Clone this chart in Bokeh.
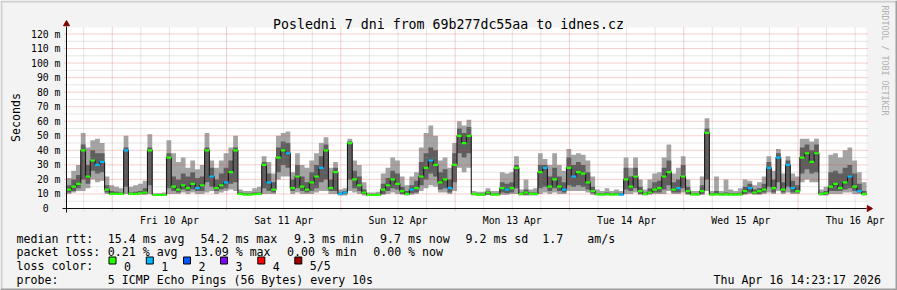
import math
from bokeh.plotting import figure
from bokeh.models import Label, FixedTicker, LinearAxis
from bokeh.embed import file_html
from bokeh.resources import INLINE

# ---------------- data (hourly bins, graph start Thu 9 Apr 14:23:17) ----------------
median_ms = [
    13, 15, 17, 40, 22, 33, 30, 32, 13, 10, 10, 10,
    40, 10, 10, 10.5, 11, 40, 9.3, 9.3, 9.3, 35, 15, 13,
    16, 14, 17, 14, 16, 40, 22, 14, 16, 18, 25, 40,
    10, 9.6, 9.6, 9.8, 10, 30, 18, 13, 35, 40, 38, 14,
    22, 15, 13, 18, 22, 28, 40, 14, 25, 10, 11, 45,
    20, 16, 11, 9.3, 9.3, 9.4, 13, 16, 20, 17, 12, 10,
    13, 14, 22, 28, 33, 30, 18, 20, 14, 30, 50, 45,
    50, 10, 9.5, 9.5, 11, 9.6, 9.6, 14, 13, 14, 28, 10,
    11, 10, 10, 25, 28, 15, 20, 15, 13, 28, 22, 25,
    24, 18, 12, 9.8, 9.6, 9.8, 9.6, 9.7, 9.6, 20, 15, 22,
    12, 10, 11, 13, 14, 22, 25, 13, 14, 22, 12, 9.7,
    9.7, 12, 52, 9.6, 9.8, 9.6, 9.7, 9.6, 9.6, 9.7, 12, 14,
    11, 12, 13, 28, 14, 35, 13, 30, 14, 12, 35, 38,
    32, 38, 10, 10.5, 15, 17, 14, 18, 22, 15, 12, 10,
]
smoke_min = [
    10, 11, 12, 12, 14, 20, 18, 19, 10, 9.5, 9.5, 9.4,
    10, 9.3, 9.3, 9.5, 9.5, 10, 9, 9, 9, 10, 10, 10,
    11, 10, 11, 10, 10, 11, 12, 10, 11, 12, 13, 12,
    9.2, 9.1, 9.1, 9.2, 9.3, 10, 10, 10, 20, 22, 22, 10,
    11, 10, 10, 10, 11, 12, 12, 10, 10, 9, 9, 12,
    11, 10, 9, 9, 9, 9, 9.5, 10, 11, 10, 9.5, 9,
    9.5, 10, 12, 14, 16, 15, 11, 11, 10, 12, 28, 25,
    28, 9, 9, 9, 9.2, 9, 9, 9.5, 9.5, 10, 10, 9,
    9, 9, 9, 10, 11, 10, 11, 10, 10, 12, 12, 12,
    12, 11, 9.5, 9, 9, 9, 9, 9, 9, 10, 10, 11,
    9.5, 9, 9.5, 10, 10, 10, 12, 10, 10, 11, 9.5, 9,
    9, 9.5, 12, 9, 9, 9, 9, 9, 9, 9, 9.5, 10,
    9.5, 9.5, 10, 11, 10, 12, 10, 11, 10, 10, 18, 20,
    18, 18, 9, 9, 10, 10, 10, 11, 11, 10, 10, 9,
]
smoke_p2 = [
    11, 12, 14, 20, 17, 26, 24, 25, 11, 9.8, 9.8, 9.7,
    15, 9.6, 9.6, 10, 10, 16, 9.1, 9.1, 9.1, 14, 12, 11,
    13, 12, 13, 12, 12, 18, 15, 12, 13, 14, 17, 18,
    9.5, 9.3, 9.3, 9.4, 9.5, 14, 12, 11, 25, 30, 28, 12,
    14, 12, 11, 12, 14, 18, 20, 12, 12, 9.5, 10, 20,
    14, 12, 10, 9.1, 9.1, 9.1, 10, 12, 14, 13, 10, 9.5,
    10.5, 11, 16, 20, 24, 22, 13, 14, 11, 18, 38, 35,
    38, 9.3, 9.2, 9.2, 9.6, 9.2, 9.2, 11, 10.5, 11, 14, 9.5,
    9.5, 9.5, 9.5, 14, 15, 12, 14, 12, 11, 16, 15, 16,
    15, 13, 10.5, 9.3, 9.3, 9.3, 9.3, 9.3, 9.3, 13, 12, 14,
    10, 9.5, 10, 11, 11, 13, 16, 11, 11, 14, 10, 9.3,
    9.3, 10, 20, 9.2, 9.3, 9.2, 9.3, 9.2, 9.2, 9.3, 10, 11,
    10, 10, 11, 15, 11, 18, 11, 15, 11, 11, 24, 27,
    24, 25, 9.5, 9.5, 12, 12, 12, 13, 14, 12, 11, 9.5,
]
smoke_p4 = [
    16, 20, 23, 44, 30, 40, 38, 38, 16, 12, 11.5, 11,
    42, 11, 11.5, 12, 14, 42, 9.8, 9.8, 9.8, 38, 22, 20,
    24, 22, 25, 21, 22, 42, 28, 20, 24, 28, 33, 42,
    11, 10.5, 10.5, 11, 11, 32, 24, 18, 42, 46, 45, 20,
    30, 22, 18, 25, 30, 36, 44, 20, 28, 11, 12, 46,
    26, 22, 13, 9.8, 9.8, 10, 17, 21, 26, 24, 15, 12,
    16, 19, 32, 38, 42, 40, 25, 27, 20, 38, 55, 52,
    56, 10.5, 10.2, 10.2, 12, 10.3, 10.5, 18, 17, 18, 30, 11,
    13, 11, 11, 30, 30, 22, 28, 22, 18, 35, 30, 32,
    30, 25, 15, 10.5, 10.5, 11, 10.5, 10.8, 10.5, 28, 22, 28,
    15, 11, 14, 18, 19, 28, 33, 18, 20, 30, 15, 10.5,
    10.5, 16, 55, 10.5, 12, 10.5, 11, 10.5, 10.5, 10.8, 15, 17,
    13, 14, 17, 32, 20, 38, 18, 33, 19, 16, 42, 44,
    40, 44, 11, 12, 25, 26, 24, 28, 30, 24, 17, 12,
]
smoke_max = [
    21, 26, 30, 52, 42, 47, 48, 45, 22, 16, 15, 14,
    50, 15, 16, 17, 19, 51, 10.5, 10.5, 11, 47, 38, 32,
    35, 28, 33, 27, 30, 52, 33, 28, 33, 38, 42, 50,
    13, 12, 12, 14, 15, 36, 32, 24, 50, 52, 53, 25,
    38, 30, 28, 33, 38, 45, 49, 28, 32, 13, 14, 48,
    33, 30, 18, 11, 11, 11.5, 24, 28, 35, 33, 22, 16,
    22, 25, 42, 52, 57, 50, 33, 35, 28, 45, 60, 57,
    61, 12, 11.5, 11.5, 14, 12, 12, 25, 24, 25, 36, 13,
    20, 13, 14, 38, 34, 30, 38, 30, 26, 41, 37, 38,
    37, 33, 22, 13, 12, 14, 12, 13, 12, 35, 28, 35,
    20, 13, 20, 24, 25, 35, 44, 24, 28, 36, 20, 12,
    12, 22, 62, 12, 22, 12, 20, 13, 12, 14, 20, 19,
    16, 18, 22, 36, 26, 41, 24, 36, 24, 22, 48, 48,
    46, 48, 13, 15, 37, 38, 35, 40, 42, 33, 25, 18,
]
loss_count = [
    0, 0, 0, 0, 0, 0, 1, 1, 0, 0, 0, 0,
    1, 0, 0, 0, 0, 0, 0, 0, 0, 0, 0, 0,
    0, 0, 0, 1, 0, 0, 1, 0, 0, 1, 0, 0,
    0, 0, 0, 0, 0, 0, 1, 0, 0, 0, 1, 0,
    0, 0, 0, 0, 0, 1, 0, 0, 0, 1, 1, 0,
    0, 0, 0, 0, 0, 0, 0, 0, 0, 0, 0, 0,
    1, 0, 0, 0, 1, 0, 0, 0, 1, 0, 0, 0,
    0, 0, 0, 0, 0, 0, 0, 0, 1, 0, 0, 0,
    0, 0, 0, 0, 1, 0, 0, 0, 1, 0, 1, 0,
    0, 0, 0, 0, 0, 0, 0, 0, 1, 0, 0, 0,
    0, 0, 0, 0, 0, 0, 0, 0, 1, 0, 0, 0,
    0, 0, 0, 0, 0, 0, 0, 0, 0, 0, 0, 1,
    0, 0, 0, 1, 0, 1, 0, 1, 1, 0, 0, 0,
    0, 0, 0, 0, 0, 0, 0, 0, 1, 0, 1, 0,
]
loss_labels = ["0", "1", "2", "3", "4", "5/5"]
loss_colors = ["#26ff00", "#00b8ff", "#0059ff", "#7e00ff", "#ff0000", "#a00000"]

day_labels = ["Fri 10 Apr", "Sat 11 Apr", "Sun 12 Apr", "Mon 13 Apr",
              "Tue 14 Apr", "Wed 15 Apr", "Thu 16 Apr"]
y_ticks = [0, 10, 20, 30, 40, 50, 60, 70, 80, 90, 100, 110, 120]
y_tick_labels = ["0\u00a0\u00a0"] + ["%d m" % v for v in y_ticks[1:]]

title_text = "Posledni 7 dni from 69b277dc55aa to idnes.cz"
legend_rtt = [("median rtt:", 16), ("15.4 ms avg", 107.3), ("54.2 ms max", 200),
              ("9.3 ms min", 293.5), ("9.7 ms now", 379.5), ("9.2 ms sd", 465),
              ("1.7", 541.7), ("am/s", 586.7)]
legend_loss = [("packet loss:", 16), ("0.21 % avg", 107.3), ("13.09 % max", 193.3),
               ("0.00 % min", 286.5), ("0.00 % now", 372.7)]
probe_text = "5 ICMP Echo Pings (56 Bytes) every 10s"
stamp_text = "Thu Apr 16 14:23:17 2026"

HOURS = 168
FIRST_MIDNIGHT_H = 9 + 36 / 60 + 43 / 3600  # Fri 10 Apr 00:00 relative to start
TOP_MS = 124.5

# ---------------- layout (pixels) ----------------
W, H = 897, 290
PPH = 800 / HOURS
PPM = 174.5 / 120
X0, Y0 = 66, 208
BG = "#f3f3f3"
MONO = "DejaVu Sans Mono"


def hx(px):
    return (px - X0) / PPH


def my(py):
    return (Y0 - py) / PPM


p = figure(width=W, height=H, output_backend="svg", toolbar_location=None, title=None,
           x_range=(hx(0), hx(W)), y_range=(my(H), my(0)),
           x_axis_type=None, y_axis_type=None,
           min_border=0, min_border_left=0, min_border_right=0, min_border_top=0,
           min_border_bottom=0, background_fill_color=BG, border_fill_color=BG)
p.outline_line_color = None

# axes placed at the data origin (labels only; lines drawn below)
noon_pos = [round(FIRST_MIDNIGHT_H + 12 + 24 * k, 3) for k in range(len(day_labels))]
xax = LinearAxis(fixed_location=0, ticker=FixedTicker(ticks=noon_pos))
xax.major_label_overrides = {t: s for t, s in zip(noon_pos, day_labels)}
yax = LinearAxis(fixed_location=0, ticker=FixedTicker(ticks=y_ticks))
yax.major_label_overrides = {t: s for t, s in zip(y_ticks, y_tick_labels)}
for ax in (xax, yax):
    ax.axis_line_color = None
    ax.major_tick_line_color = None
    ax.minor_tick_line_color = None
    ax.major_tick_out = 0
    ax.major_tick_in = 0
    ax.major_label_standoff = 6
    ax.major_label_text_font = MONO
    ax.major_label_text_font_size = "9.8px"
    ax.major_label_text_color = "#000000"
p.add_layout(xax, "below")
p.add_layout(yax, "left")

# canvas
p.quad(left=0, right=HOURS, bottom=0, top=TOP_MS, fill_color="#ffffff", line_color=None)

# smoke
xs = list(range(HOURS + 1))


def ext(a):
    return list(a) + [a[-1]]


p.varea_step(x=xs, y1=ext(smoke_min), y2=ext(smoke_max), step_mode="after",
             fill_color="#a4a4a4")
p.varea_step(x=xs, y1=ext(smoke_p2), y2=ext(smoke_p4), step_mode="after",
             fill_color="#5e5e5e")

# grid
midnights = [FIRST_MIDNIGHT_H + 24 * k for k in range(7)]
sixes = [FIRST_MIDNIGHT_H - 6 + 6 * k for k in range(29)]
minor_v = [v for v in sixes if 0 < v < HOURS and min(abs(v - m) for m in midnights) > 0.1]
grid_bot = my(210)
p.segment(x0=minor_v, x1=minor_v, y0=[grid_bot] * len(minor_v), y1=[TOP_MS] * len(minor_v),
          line_color="#8f8f8f", line_alpha=0.45, line_dash="1 1", line_width=1)
p.segment(x0=midnights, x1=midnights, y0=[grid_bot] * 7, y1=[TOP_MS] * 7,
          line_color="#e04040", line_alpha=0.5, line_dash="1 1", line_width=1)
hmin = [v for v in range(5, 125, 5) if v % 10]
hmaj = [v for v in range(10, 125, 10)]
p.segment(x0=[hx(64)] * len(hmin), x1=[hx(868)] * len(hmin), y0=hmin, y1=hmin,
          line_color="#8f8f8f", line_alpha=0.45, line_dash="1 1", line_width=1)
p.segment(x0=[hx(64)] * len(hmaj), x1=[hx(868)] * len(hmaj), y0=hmaj, y1=hmaj,
          line_color="#e04040", line_alpha=0.5, line_dash="1 1", line_width=1)

# median
p.step(x=xs, y=ext(median_ms), mode="after", line_color="#1a1a1a", line_width=1.1)
hrs = list(range(HOURS))
p.segment(x0=hrs, x1=[h + 1 for h in hrs], y0=median_ms, y1=median_ms,
          line_color=[loss_colors[c] for c in loss_count], line_width=2.2, line_cap="butt")

# axis lines + arrows
p.segment(x0=[hx(62)], x1=[hx(866)], y0=[0], y1=[0], line_color="#101010", line_width=1)
p.segment(x0=[0], x1=[0], y0=[my(212)], y1=[my(26)], line_color="#101010", line_width=1)
p.scatter(x=[hx(868.5)], y=[0], marker="triangle", size=6, angle=-math.pi / 2,
          fill_color="#800000", line_color="#800000")
p.scatter(x=[0], y=[my(23.5)], marker="triangle", size=6,
          fill_color="#800000", line_color="#800000")


def lab(text, px, py, size="11.6px", align="left", angle=0.0, color="#000000",
        baseline="alphabetic"):
    p.add_layout(Label(x=hx(px), y=my(py), text=text, text_font=MONO, text_font_size=size,
                       text_align=align, text_baseline=baseline, angle=angle,
                       text_color=color))


lab(title_text, 448, 24, size="13.25px", align="center")
lab("Seconds", 15, 117, align="center", angle=math.pi / 2)
lab("RRDTOOL / TOBI OETIKER", 884.5, 60, size="8.3px", align="center",
    angle=-math.pi / 2, color="#b0b0b0")

for t, x in legend_rtt:
    lab(t, x, 238.3)
for t, x in legend_loss:
    lab(t, x, 251.9)
lab("loss color:", 16, 265.6)
box_x = [108.5, 145.8, 183, 220, 257.3, 294.3]
p.quad(left=[hx(b) for b in box_x], right=[hx(b + 7) for b in box_x],
       top=[my(256.5)] * 6, bottom=[my(263.5)] * 6,
       fill_color=loss_colors, line_color="#000000", line_width=1)
for bx, t in zip(box_x, loss_labels):
    lab(t, bx + 15, 265.6)
lab("probe:", 16, 279.2)
lab(probe_text, 107.3, 279.2)
lab(stamp_text, 880.5, 279.2, align="right")

# 3D border of the image
p.quad(left=[hx(0), hx(0)], right=[hx(W), hx(2)], top=[my(0), my(0)], bottom=[my(2), my(H)],
       fill_color="#cfcfcf", line_color=None)
p.quad(left=[hx(0), hx(W - 2)], right=[hx(W), hx(W)], top=[my(H - 2), my(0)],
       bottom=[my(H), my(H)], fill_color="#9e9e9e", line_color=None)

open("out.html", "w").write(file_html(p, INLINE))
